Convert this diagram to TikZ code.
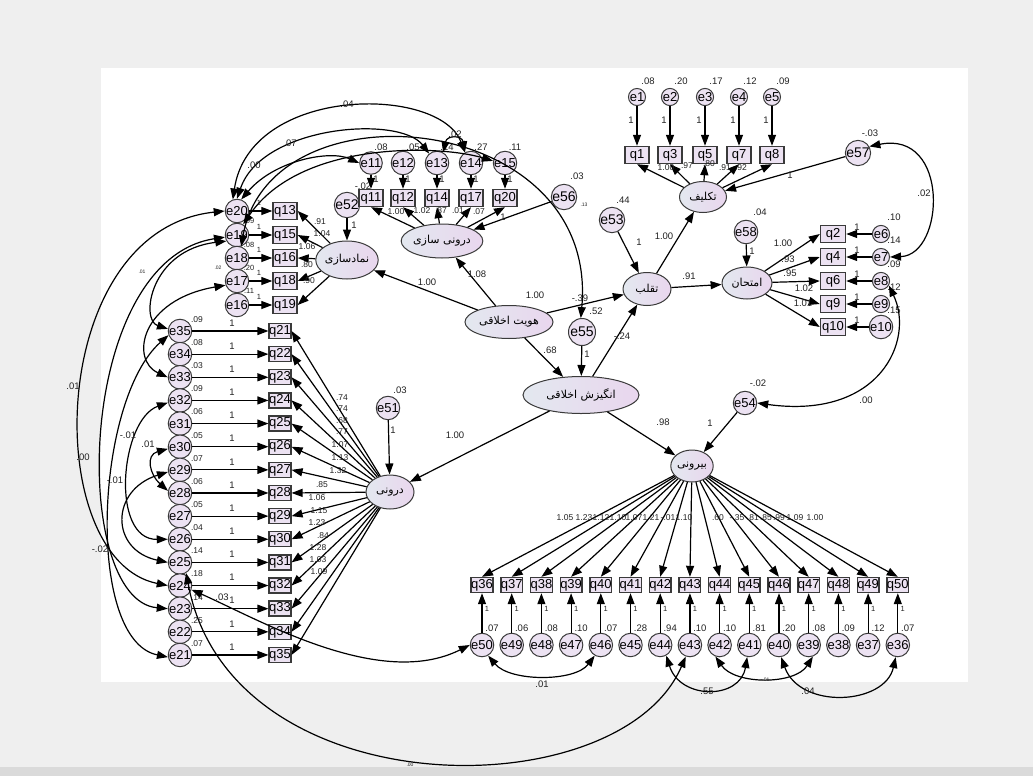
\documentclass[tikz,border=0pt]{standalone}
\usepackage{fontspec}
\setmainfont{Liberation Sans}
\newfontfamily\fa[Script=Arabic]{DejaVu Sans}
\TeXXeTstate=1
\usetikzlibrary{arrows.meta,shapes.geometric}
\definecolor{bgc}{HTML}{EFEFEF}
\definecolor{bandc}{HTML}{DADADA}
\definecolor{nodefill}{HTML}{ECE2F2}
\definecolor{nodeline}{HTML}{3A3A3A}
\definecolor{latl}{HTML}{E3E8EF}
\definecolor{latr}{HTML}{E9D6EE}
\definecolor{txt}{HTML}{222222}
\begin{document}
\begin{tikzpicture}[x=1pt,y=-1pt,
 obs/.style={rectangle,draw=nodeline,line width=1.4pt,fill=nodefill,minimum width=24pt,minimum height=17pt,inner sep=0pt,font=\fontsize{13}{13}\selectfont},
 obsn/.style={obs,minimum width=20pt,minimum height=15pt},
 err/.style={circle,draw=nodeline,line width=1pt,fill=nodefill,minimum size=17pt,inner sep=0pt,font=\fontsize{13}{13}\selectfont},
 errn/.style={err,minimum size=15pt},
 errb/.style={err,minimum size=24pt,font=\fontsize{14}{14}\selectfont},
 lat/.style={ellipse,draw=nodeline,line width=1pt,left color=latl,right color=latr,inner sep=0pt,font=\fa\fontsize{11}{11}\selectfont},
 lbl/.style={inner sep=0pt,font=\fontsize{9.5}{9.5}\selectfont,text=txt},
 lblm/.style={inner sep=0pt,font=\fontsize{8.5}{8.5}\selectfont,text=txt},
 lbls/.style={inner sep=0pt,font=\fontsize{7.5}{7.5}\selectfont,text=txt},
 tinylbl/.style={inner sep=0pt,font=\fontsize{5}{5}\selectfont,text=txt},
 arr/.style={line width=1.2pt,-{Triangle[length=11pt,width=8pt]}},
 cov/.style={line width=1.2pt,{Triangle[length=11pt,width=8pt]}-{Triangle[length=11pt,width=8pt]}}
]
\useasboundingbox (0,0) rectangle (1033,776);
\fill[bgc] (0,0) rectangle (1033,776);
\fill[white] (101,68) rectangle (968,682);
\fill[bandc] (0,767) rectangle (1033,776);

% ---------- top group (takleef)
\foreach \en/\qn/\xx/\vv in {1/1/637/.08, 2/3/670/.20, 3/5/705/.17, 4/7/739/.12, 5/8/772/.09} {
 \node[err] (e\en) at (\xx,97) {e\en};
 \node[obs] (q\qn) at (\xx,155) {q\qn};
 \draw[arr] (e\en) -- (q\qn);
 \node[lbl] at (\xx-6,120) {1};
 \node[lbl] at (\xx+11,81) {\vv};
}
\node[lat,minimum width=47pt,minimum height=31pt] (tak) at (703,197) {\beginR تکلیف\endR};
\foreach \qn in {1,3,5,7,8} \draw[arr] (tak) -- (q\qn.south);
\node[lblm] at (666,168) {1.00};
\node[lblm] at (687,166) {.97};
\node[lblm] at (709,164) {.80};
\node[lblm] at (725,168) {.91};
\node[lblm] at (741,168) {.92};

\node[errb] (e57) at (858,153) {e57};
\draw[arr] (e57) -- (tak);
\node[lbl] at (790,175) {1};
\node[lbl] at (870,133) {-.03};

\node[errb,minimum size=25pt] (e53) at (612,220) {e53};
\node[lbl] at (623,200) {.44};
\node[lat,minimum width=48pt,minimum height=33pt] (taq) at (647,289) {\beginR تقلب\endR};
\draw[arr] (e53) -- (taq);
\node[lbl] at (639,242) {1};
\draw[arr] (taq) -- (tak);
\node[lbl] at (664,236) {1.00};

\node[lat,minimum width=50pt,minimum height=32pt] (emt) at (747,283) {\beginR امتحان\endR};
\draw[arr] (taq) -- (emt);
\node[lbl] at (689,276) {.91};
\node[err,minimum size=22pt] (e58) at (746,232) {e58};
\draw[arr] (e58) -- (emt);
\node[lbl] at (760,212) {.04};
\node[lbl] at (752,251) {1};

\foreach \qn/\en/\yy/\vv in {2/6/234/.10, 4/7/257/.14, 6/8/281/.09, 9/9/304/.12, 10/10/327/.15} {
 \node[obs,minimum width=25pt] (q\qn) at (833,\yy) {q\qn};
 \node[err,minimum size=16pt] (e\en) at (881,\yy) {e\en};
 \draw[arr] (e\en) -- (q\qn);
 \draw[arr] (emt) -- (q\qn.west);
 \node[lbl] at (857,\yy-7) {1};
 \node[lbl] at (894,\yy-17) {\vv};
}
\node[lbl] at (783,243) {1.00};
\node[lbl] at (788,259) {.93};
\node[lbl] at (790,273) {.95};
\node[lbl] at (804,288) {1.02};
\node[lbl] at (803,303) {1.01};

% ---------- central latents
\node[lat,minimum width=88pt,minimum height=33pt] (hov) at (509,322) {\beginR هویت اخلاقی\endR};
\node[lat,minimum width=54pt,minimum height=38pt] (nam) at (347,260) {\beginR نمادسازی\endR};
\node[lat,minimum width=54pt,minimum height=34pt] (dsaz) at (442,241) {\beginR درونی سازی\endR};
\node[lat,minimum width=116pt,minimum height=37pt] (ang) at (581,395) {\beginR انگیزش اخلاقی\endR};
\node[lat,minimum width=48pt,minimum height=34pt] (dar) at (390,492) {\beginR درونی\endR};
\node[lat,minimum width=42pt,minimum height=32pt] (bir) at (692,466) {\beginR بیرونی\endR};
\node[errb,minimum size=27pt] (e55) at (582,332) {e55};
\node[errb] (e56) at (564,197) {e56};
\node[errb,minimum size=23pt] (e52) at (347,205) {e52};
\node[err,minimum size=22pt] (e51) at (388,408) {e51};
\node[err,minimum size=22pt] (e54) at (745,403) {e54};

\draw[arr] (hov) -- (nam);   \node[lbl] at (427,282) {1.00};
\draw[arr] (hov) -- (dsaz);  \node[lbl] at (477,274) {1.08};
\draw[arr] (hov) -- (taq);   \node[lbl] at (535,295) {1.00};
\draw[arr] (hov) -- (ang);   \node[lbl] at (550,350) {.68};
\draw[arr] (e55) -- (ang);   \node[lbl] at (587,354) {1};
\draw[arr] (ang) -- (taq);   \node[lbl] at (622,336) {-.24};
\draw[arr] (ang) -- (bir);   \node[lbl] at (663,422) {.98};
\draw[arr] (ang) -- (dar);   \node[lbl] at (455,435) {1.00};
\draw[arr] (e51) -- (dar);   \node[lbl] at (393,430) {1};
\draw[arr] (e54) -- (bir);   \node[lbl] at (710,423) {1};
\draw[arr] (e52) -- (nam);   \node[lbl] at (354,225) {1};
\draw[arr] (e56) -- (dsaz);  \node[lbl] at (503,217) {1};
\node[lbl] at (596,311) {.52};
\node[lbl] at (577,176) {.03};
\node[tinylbl] at (584,205) {.13};
\node[lbl] at (363,186) {-.02};
\node[lbl] at (400,390) {.03};
\node[lbl] at (758,383) {-.02};

% ---------- internalization indicators
\foreach \qn/\en/\xx/\vv in {11/11/371/.08, 12/12/403/.05, 14/13/437/.14, 17/14/471/.27, 20/15/505/.11} {
 \node[obs] (q\qn) at (\xx,198) {q\qn};
 \node[err] (e\en) at (\xx,163) {e\en};
 \draw[arr] (e\en) -- (q\qn);
 \draw[arr] (dsaz) -- (q\qn.south);
 \node[lbl] at (\xx+5,179) {1};
 \node[lbl] at (\xx+10,147) {\vv};
}
\node[lblm] at (396,212) {1.00};
\node[lblm] at (422,211) {1.02};
\node[lblm] at (441,211) {.87};
\node[lblm] at (458,211) {.01};
\node[lblm] at (479,212) {.07};

% ---------- symbolization indicators
\foreach \qn/\en/\yy in {13/20/211, 15/19/235, 16/18/258, 18/17/281, 19/16/305} {
 \node[obs] (q\qn) at (285,\yy) {q\qn};
 \node[errn,minimum size=16pt] (e\en) at (237,\yy) {e\en};
 \draw[arr] (e\en) -- (q\qn);
 \draw[arr] (nam) -- (q\qn.east);
 \node[lbls] at (259,\yy-8) {1};
}
\node[lbls] at (249,221) {.09};
\node[lbls] at (249,245) {.08};
\node[lbls] at (249,268) {.20};
\node[lbls] at (249,291) {.11};
\node[lblm] at (320,222) {.91};
\node[lblm] at (322,234) {1.04};
\node[lblm] at (307,247) {1.06};
\node[lblm] at (307,265) {.80};
\node[lblm] at (309,281) {.90};

% ---------- inner (darooni) indicators
\foreach \i in {0,...,14} {
 \pgfmathsetmacro\yy{331+23.14*\i}
 \pgfmathtruncatemacro\qn{21+\i}
 \pgfmathtruncatemacro\en{35-\i}
 \node[obsn] (q\qn) at (280,\yy) {q\qn};
 \node[errn] (e\en) at (180,\yy) {e\en};
 \draw[arr] (e\en) -- (q\qn);
 \draw[arr] (dar) -- (q\qn.east);
 \node[lbl] at (232,\yy-8) {1};
}
\foreach \en/\vv in {35/.09,34/.08,33/.03,32/.09,31/.06,30/.05,29/.07,28/.06,27/.05,26/.04,25/.14,24/.18,23/.14,22/.25,21/.07}
 \node[lblm] at ([shift={(17,-11.5)}]e\en) {\vv};
\foreach \xx/\yy/\vv in {342/398/.74,342/409/.74,342/421/.68,342/432/.77,340/445/1.07,340/458/1.13,338/471/1.32,322/485/.85,317/498/1.06,319/511/1.15,317/523/1.23,323/536/.84,318/548/1.28,318/560/1.03,319/572/1.09}
 \node[lblm] at (\xx,\yy) {\vv};

% ---------- outer (biruni) indicators
\foreach \i in {0,...,14} {
 \pgfmathsetmacro\xx{482+29.7*\i}
 \pgfmathtruncatemacro\qn{36+\i}
 \pgfmathtruncatemacro\en{50-\i}
 \node[obsn,minimum width=21pt] (q\qn) at (\xx,585) {q\qn};
 \node[errn] (e\en) at (\xx,645) {e\en};
 \draw[arr] (e\en) -- (q\qn);
 \draw[arr] (bir) -- (q\qn.north);
 \node[lbls] at (\xx+5,609) {1};
}
\foreach \en/\vv in {50/.07,49/.06,48/.08,47/.10,46/.07,45/.28,44/.94,43/.10,42/.10,41/.81,40/.20,39/.08,38/.09,37/.12,36/.07}
 \node[lbl] at ([shift={(10,-17)}]e\en) {\vv};
\foreach \xx/\vv in {565/1.05,584/1.23,601/1.12,618/1.10,634/1.07,651/1.21,668/-.01,684/1.10,718/.60,737/-.35,753/.81,766/.85,779/.99,795/1.09,815/1.00}
 \node[lblm] at (\xx,518) {\vv};

% ---------- covariances, top
\draw[cov] (e20.110) .. controls (250,85) and (440,85) .. (e14.120);
\node[lbl] at (347,104) {.04};
\draw[cov] (e20.90) .. controls (262,125) and (400,115) .. (e13.130);
\node[lbl] at (290,143) {.07};
\draw[cov] (e20.70) .. controls (275,160) and (330,150) .. (e11.180);
\node[lbl] at (254,165) {.00};
\draw[cov] (e13.60) .. controls (447,135) and (462,135) .. (e14.120);
\node[lbl] at (455,134) {.02};
\draw[cov] (e19.60) .. controls (300,140) and (440,145) .. (e15.170);
\draw[cov] (e18.70) .. controls (270,80) and (600,110) .. (e55.95);
\node[lbl] at (580,298) {-.39};

% ---------- covariances, left
\draw[cov] (e20.180) .. controls (45,230) and (40,560) .. (e24.180);
\node[lbl] at (73,386) {.01};
\draw[cov] (e19.190) .. controls (75,260) and (70,600) .. (e23.180);
\node[lbl] at (83,457) {.00};
\draw[cov] (e19.210) .. controls (150,250) and (140,320) .. (e35.170);
\node[tinylbl] at (142,272) {.01};
\draw[cov] (e17.200) .. controls (140,300) and (130,360) .. (e33.180);
\node[tinylbl] at (218,268) {.02};
\draw[cov] (e32.190) .. controls (120,420) and (110,540) .. (e26.180);
\node[lbl] at (128,435) {-.01};
\draw[cov] (e30.190) .. controls (145,455) and (150,475) .. (e28.170);
\node[lbl] at (148,444) {.01};
\draw[cov] (e29.190) .. controls (110,490) and (110,550) .. (e25.180);
\node[lbl] at (115,480) {-.01};
\draw[cov] (e35.200) .. controls (95,400) and (85,640) .. (e21.190);
\node[lbl] at (100,549) {-.02};
\draw[cov] (e24.-20) .. controls (260,620) and (380,690) .. (e50.180);
\node[lbl] at (222,597) {.03};
\draw[cov] (e25.-60) .. controls (230,810) and (620,810) .. (e43.-110);
\node[tinylbl] at (410,765) {.00};

% ---------- covariances, right and bottom
\draw[cov] (e57.30) .. controls (950,130) and (945,255) .. (e7.0);
\node[lbl] at (924,193) {.02};
\draw[cov] (e8.-30) .. controls (915,340) and (880,420) .. (e54.0);
\node[lbl] at (866,400) {.00};
\draw[cov] (e50.-60) .. controls (510,682) and (575,682) .. (e46.-120);
\node[lbl] at (542,684) {.01};
\draw[cov] (e44.-60) .. controls (680,700) and (740,700) .. (e41.-100);
\node[lbl] at (707,691) {.55};
\draw[cov] (e42.-110) .. controls (735,685) and (795,685) .. (e39.-70);
\node[tinylbl] at (765,680) {-.01};
\draw[cov] (e40.-80) .. controls (800,710) and (885,705) .. (e36.-100);
\node[lbl] at (808,691) {.04};
\end{tikzpicture}
\end{document}
